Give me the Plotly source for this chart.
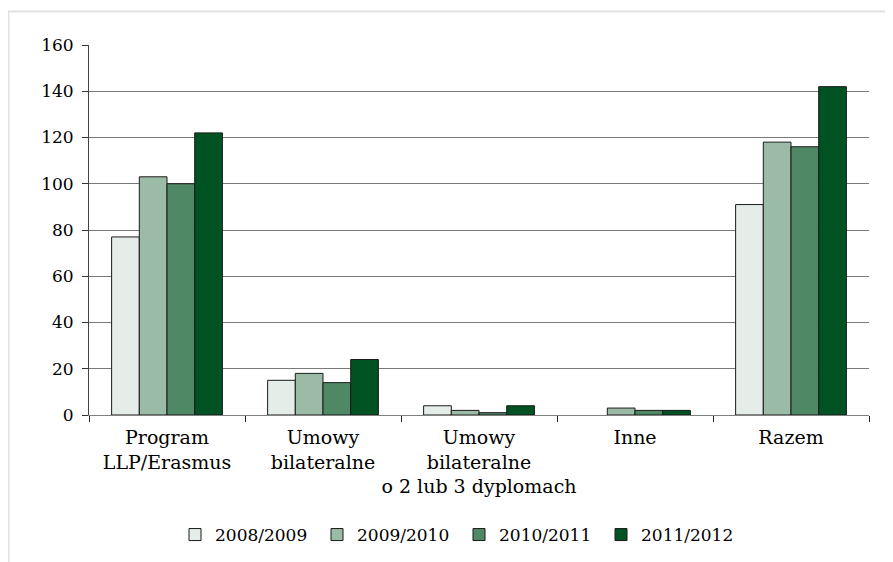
import plotly.graph_objects as go

categories = ["Program<br>LLP/Erasmus", "Umowy<br>bilateralne",
              "Umowy<br>bilateralne<br>o 2 lub 3 dyplomach", "Inne", "Razem"]
series_names = ["2008/2009", "2009/2010", "2010/2011", "2011/2012"]
v_2008 = [77, 15, 4, None, 91]
v_2009 = [103, 18, 2, 3, 118]
v_2010 = [100, 14, 1, 2, 116]
v_2011 = [122, 24, 4, 2, 142]
y_ticks = [0, 20, 40, 60, 80, 100, 120, 140, 160]

colors = ["#e4ede8", "#9bbba7", "#4e8864", "#005222"]
values = [v_2008, v_2009, v_2010, v_2011]

FONT = "DejaVu Serif"

fig = go.Figure()
for name, vals, col in zip(series_names, values, colors):
    fig.add_trace(go.Bar(x=categories, y=vals, name=name,
                         marker=dict(color=col, line=dict(color="#1a1a1a", width=1))))

# figure is drawn inside the page body (8px offset)
W, H = 885, 554
L, R, T, B = 81, 24, 37, 147
pw, ph = W - L - R, H - T - B

def px(x):
    return (x - L) / pw

def py(y):
    return (H - B - y) / ph

fig.update_layout(
    width=W, height=H,
    margin=dict(l=L, r=R, t=T, b=B, pad=0, autoexpand=False),
    paper_bgcolor="white", plot_bgcolor="white",
    barmode="group", bargap=0.29, bargroupgap=0,
    font=dict(family=FONT, size=17, color="#000000"),
    showlegend=True,
    legend=dict(orientation="h", x=px(167), xanchor="left", y=py(527), yanchor="middle",
                font=dict(family=FONT, size=17, color="#000000"),
                entrywidth=97, entrywidthmode="pixels", traceorder="normal"),
    xaxis=dict(showline=True, linecolor="#808080", linewidth=1, tickangle=0, automargin=False,
               ticks="outside", ticklen=6, tickcolor="#222222", tickson="boundaries",
               ticklabelstandoff=5,
               tickfont=dict(family=FONT, size=19, color="#000000")),
    yaxis=dict(range=[0, 160], tickvals=y_ticks, showline=True, linecolor="#444444",
               linewidth=1, ticks="outside", ticklen=6, tickcolor="#333333", automargin=False,
               showgrid=True, gridcolor="#7a7a7a", gridwidth=1,
               zeroline=False, ticklabelstandoff=5,
               tickfont=dict(family=FONT, size=17, color="#000000")),
    shapes=[
        dict(type="line", xref="paper", yref="paper", x0=px(0), x1=px(W), y0=py(3.5), y1=py(3.5),
             line=dict(color="#e2e2e2", width=2)),
        dict(type="line", xref="paper", yref="paper", x0=px(0.5), x1=px(0.5), y0=py(3.5), y1=py(H),
             line=dict(color="#e2e2e2", width=2)),
    ],
)

fig.write_html("out.html")
